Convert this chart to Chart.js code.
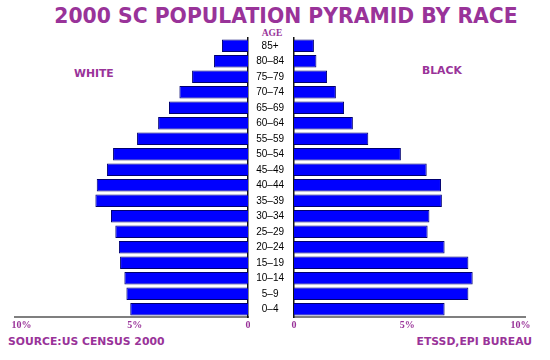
<!DOCTYPE html>
<html>
<head>
<meta charset="utf-8">
<script src="https://cdn.jsdelivr.net/npm/chart.js@4.4.1/dist/chart.umd.min.js"></script>
<style>
	body { margin: 0; background: #fff; }
	#wrap { position: relative; width: 550px; height: 360px; overflow: hidden; }
	canvas { position: absolute; top: 0; }
	.lbl { position: absolute; color: #993399; font-family: "DejaVu Sans"; font-weight: bold; white-space: nowrap; line-height: 1; }
</style>
</head>
<body>
<div id="wrap">
	<div class="lbl" id="title" style="left:286px; top:5px; font-size:22px; transform:translateX(-50%) scaleX(0.925);">2000 SC POPULATION PYRAMID BY RACE</div>
	<div class="lbl" style="left:272px; top:29px; font-family:'Liberation Serif'; font-size:9.5px; transform:translateX(-50%);">AGE</div>
	<div class="lbl" style="left:74px; top:69px; font-size:10.8px;">WHITE</div>
	<div class="lbl" style="left:422px; top:66px; font-size:10.8px;">BLACK</div>
	<div class="lbl" style="left:8px; top:337px; font-size:10.8px;">SOURCE:US CENSUS 2000</div>
	<div class="lbl" style="right:18px; top:337px; font-size:10.8px;">ETSSD,EPI BUREAU</div>
	<canvas id="whiteChart" width="250" height="360" style="left:0px"></canvas>
	<canvas id="blackChart" width="302" height="360" style="left:248px"></canvas>
</div>
<script>
const ageGroups = ["85+", "80–84", "75–79", "70–74", "65–69", "60–64", "55–59", "50–54", "45–49",
	"40–44", "35–39", "30–34", "25–29", "20–24", "15–19", "10–14", "5–9", "0–4"];
// percent of each race's population
const white = [1.15, 1.5, 2.47, 3.03, 3.49, 3.97, 4.9, 5.96, 6.23,
	6.68, 6.74, 6.05, 5.86, 5.7, 5.65, 5.46, 5.37, 5.2];
const black = [0.88, 0.99, 1.46, 1.85, 2.21, 2.6, 3.28, 4.72, 5.86,
	6.49, 6.53, 5.98, 5.9, 6.65, 7.7, 7.89, 7.7, 6.65];
const tickValues = [0, 5, 10];

const purple = "#993399";

const xAxis = (max, reverse) => ({
	type: "linear",
	min: 0,
	max: max,
	reverse: reverse,
	grid: { display: false, drawTicks: false },
	border: { display: true, color: "#7f7f7f", width: 2 },
	afterBuildTicks: (axis) => {
		axis.ticks = tickValues.map((v) => ({ value: v }));
	},
	afterFit: (axis) => {
		axis.height = 20;
	},
	ticks: {
		padding: 2,
		maxRotation: 0,
		color: purple,
		font: { family: "Liberation Serif", weight: "bold", size: 10 },
		callback: (v) => (v === 0 ? "0" : v + "%"),
	},
});

const barSet = (label, data) => ({
	label: label,
	data: data,
	backgroundColor: "#0000ff",
	borderColor: "#000070",
	borderWidth: 1,
	barPercentage: 0.82,
	categoryPercentage: 1,
});

const common = {
	indexAxis: "y",
	responsive: false,
	animation: false,
	devicePixelRatio: 1,
	plugins: { legend: { display: false }, tooltip: { enabled: false } },
};

new Chart(document.getElementById("whiteChart"), {
	type: "bar",
	data: { labels: ageGroups, datasets: [barSet("White", white)] },
	options: {
		...common,
		layout: { padding: { left: 15, right: 2, top: 38, bottom: 23 } },
		scales: {
			x: xAxis(10.29, true),
			y: {
				position: "right",
				grid: { display: false, drawTicks: false },
				border: { display: true, color: "#111", width: 1.5 },
				ticks: { display: false },
				afterFit: (axis) => {
					axis.width = 0;
				},
			},
		},
	},
});

new Chart(document.getElementById("blackChart"), {
	type: "bar",
	data: { labels: ageGroups, datasets: [barSet("Black", black)] },
	options: {
		...common,
		layout: { padding: { left: 0, right: 25, top: 38, bottom: 23 } },
		scales: {
			x: xAxis(10.2, false),
			y: {
				position: "left",
				grid: { display: false, drawTicks: false, tickLength: 0 },
				border: { display: true, color: "#111", width: 1.5 },
				ticks: {
					crossAlign: "center",
					padding: 10,
					color: "#000",
					font: { family: "Liberation Sans", size: 10 },
				},
				afterFit: (axis) => {
					axis.width = 46;
				},
			},
		},
	},
});
</script>
</body>
</html>
